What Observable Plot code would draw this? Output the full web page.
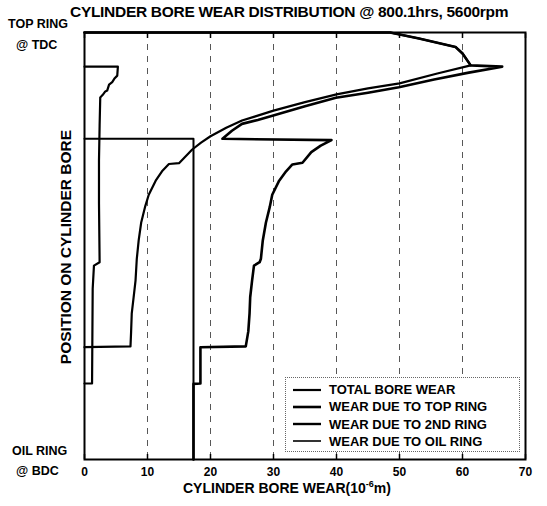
<!DOCTYPE html>
<html>
<head>
<meta charset="utf-8">
<script src="https://cdn.jsdelivr.net/npm/d3@7"></script>
<script src="https://cdn.jsdelivr.net/npm/@observablehq/plot@0.6"></script>
<style>
  html, body { margin: 0; padding: 0; background: #fff; }
  #wrap { position: relative; width: 547px; height: 506px; font-family: "Liberation Sans", Arial, sans-serif; font-weight: bold; color: #000; }
  #wrap > svg { position: absolute; left: 0; top: 0; }
  .lbl { position: absolute; white-space: nowrap; font-weight: bold; }
  #legend { position: absolute; left: 285px; top: 377px; width: 235px; height: 75px; border: 1px dotted #666; background: #fff; box-sizing: border-box; }
  .row { position: absolute; left: 7px; height: 17px; display: flex; align-items: center; font-size: 13px; }
  #wrap .row svg { position: static; margin-right: 8px; display: block; }
</style>
</head>
<body>
<div id="wrap"></div>
<script>
// x: wear (10^-6 m); y: position on bore (0 = top ring @ TDC, 100 = oil ring @ BDC)
const xTicks = [0, 10, 20, 30, 40, 50, 60, 70];
const gridValues = [10, 20, 30, 40, 50, 60];

const seriesNames = ["TOTAL BORE WEAR", "WEAR DUE TO TOP RING", "WEAR DUE TO 2ND RING", "WEAR DUE TO OIL RING"];

// [wear, position]
const totalWear = [
  [0, 0], [48.5, 0], [53.1, 1.4], [58.9, 3.4], [60, 4.9], [61.3, 7.7], [66.3, 8.0],
  [61, 9.4], [55.5, 11.0], [49.9, 12.8], [45, 14.1], [39.9, 15.3], [35, 17.3], [30.1, 19.4],
  [27.5, 20.5], [25, 21.4], [23.4, 23.0], [21.9, 24.9], [39.2, 25.2], [37.5, 26.5], [36, 28.0],
  [34.6, 30.5], [33, 30.9], [32, 32.5], [30.9, 34.7], [29.8, 38.0], [29.4, 40.9], [28.8, 44.5],
  [28.3, 48.7], [28.0, 53.0], [27.8, 53.8], [26.9, 54.6], [26.6, 58.1], [26.3, 62.0], [26.2, 65.8],
  [26.0, 70.0], [25.6, 73.5], [18.4, 73.7], [18.4, 82.2], [17.3, 82.3], [17.3, 100]
];

const topRingWear = [
  [0, 0], [48.5, 0], [53.1, 1.4], [58.9, 3.4], [60, 4.9], [61.3, 7.7],
  [56, 9.6], [50, 11.9], [45, 13.1], [40, 14.5], [35, 16.3], [30, 18.3], [27, 19.7],
  [25, 20.6], [22.5, 22.3], [20, 24.3], [18.5, 25.8], [17.1, 27.4], [15, 30.6], [13.4, 30.8],
  [12.3, 32.5], [11.3, 34.7], [10.2, 38.0], [9.6, 40.9], [9.0, 44.5], [8.6, 48.7], [8.3, 53.0],
  [8.1, 58.1], [7.8, 62.0], [7.5, 65.8], [7.4, 70.0], [7.3, 73.5], [0, 73.7]
];

const secondRingWear = [
  [0, 8.0], [5.3, 8.0], [5.2, 10.1], [4.8, 10.7], [4.4, 11.6], [3.9, 12.2], [3.6, 13.6],
  [3.3, 13.8], [2.9, 14.6], [2.5, 15.2], [2.4, 21.8], [2.3, 30], [2.3, 40], [2.4, 53.8],
  [1.5, 54.6], [1.3, 60], [1.2, 82.2], [0, 82.2]
];

const oilRingWear = [
  [0, 24.9], [17.3, 24.9], [17.3, 100]
];

const lineWidths = [2.6, 2.2, 2.2, 2.0];
const legendWidths = [2.2, 2.6, 2.4, 1.6];

const W = 547, H = 506;
const margin = {left: 84, right: 22, top: 32, bottom: 47};

const chart = Plot.plot({
  width: W,
  height: H,
  marginLeft: margin.left,
  marginRight: margin.right,
  marginTop: margin.top,
  marginBottom: margin.bottom,
  style: {fontFamily: "Liberation Sans, Arial, sans-serif", fontSize: "12px", fontWeight: "bold", background: "transparent", color: "#000"},
  x: {domain: [0, 70]},
  y: {domain: [0, 100], reverse: true, axis: null},
  marks: [
    Plot.gridX(gridValues, {stroke: "#222", strokeOpacity: 0.85, strokeWidth: 0.9, strokeDasharray: "6,6"}),
    Plot.line(oilRingWear, {x: d => d[0], y: d => d[1], stroke: "#000", strokeWidth: lineWidths[3]}),
    Plot.line(secondRingWear, {x: d => d[0], y: d => d[1], stroke: "#000", strokeWidth: lineWidths[2]}),
    Plot.line(topRingWear, {x: d => d[0], y: d => d[1], stroke: "#000", strokeWidth: lineWidths[1]}),
    Plot.line(totalWear, {x: d => d[0], y: d => d[1], stroke: "#000", strokeWidth: lineWidths[0]}),
    Plot.axisX(xTicks, {anchor: "bottom", tickSize: 0, tickPadding: 8, label: null, fontSize: 12, fontWeight: "bold"}),
    Plot.axisX(xTicks, {anchor: "bottom", tickSize: -5, tickFormat: () => "", label: null, strokeWidth: 1.5}),
    Plot.axisX(xTicks, {anchor: "top", tickSize: -5, tickFormat: () => "", label: null, strokeWidth: 1.5}),
    Plot.frame({stroke: "#000", strokeWidth: 2})
  ]
});

const wrap = document.getElementById("wrap");
wrap.appendChild(chart);

function addLabel(text, css, html) {
  const d = document.createElement("div");
  d.className = "lbl";
  if (html) d.innerHTML = text; else d.textContent = text;
  Object.assign(d.style, css);
  wrap.appendChild(d);
  return d;
}

addLabel("CYLINDER BORE WEAR DISTRIBUTION @ 800.1hrs, 5600rpm", {left: "70px", top: "3px", fontSize: "15.5px", letterSpacing: "-0.3px"});
addLabel("TOP RING", {left: "8px", top: "17px", fontSize: "12.5px"});
addLabel("@ TDC", {left: "16px", top: "38px", fontSize: "12.5px"});
addLabel("OIL RING", {left: "12px", top: "444px", fontSize: "12.5px"});
addLabel("@ BDC", {left: "16px", top: "464px", fontSize: "12.5px"});
addLabel("CYLINDER BORE WEAR(10<sup style='font-size:9px;vertical-align:6px'>-6</sup>m)", {left: "183px", top: "479px", fontSize: "14px"}, true);
addLabel("POSITION ON CYLINDER BORE", {left: "66px", top: "247px", fontSize: "15.5px", transform: "translate(-50%,-50%) rotate(-90deg)"});

const legend = document.createElement("div");
legend.id = "legend";
seriesNames.forEach((name, i) => {
  const r = document.createElement("div");
  r.className = "row";
  r.style.top = (3 + i * 17.3) + "px";
  r.innerHTML = `<svg width="28" height="6"><line x1="0" x2="28" y1="3" y2="3" stroke="#000" stroke-width="${legendWidths[i]}"></line></svg><span>${name}</span>`;
  legend.appendChild(r);
});
wrap.appendChild(legend);
</script>
</body>
</html>
